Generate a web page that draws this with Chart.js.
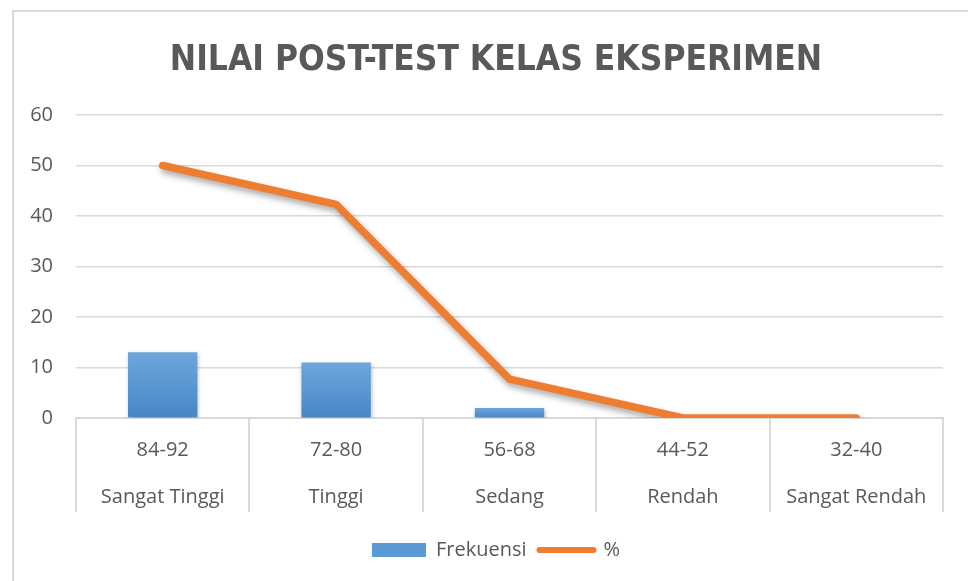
<!DOCTYPE html>
<html>
<head>
<meta charset="utf-8">
<title>Nilai Post-Test Kelas Eksperimen</title>
<script src="https://cdn.jsdelivr.net/npm/chart.js@4.4.1/dist/chart.umd.min.js"></script>
<style>
    html, body { margin: 0; padding: 0; background: #fff; }
    .wrap { position: relative; width: 968px; height: 581px; overflow: hidden; }
    .frame { position: absolute; left: 12px; top: 10px; width: 980px; height: 600px;
             border-left: 2px solid #d9d9d9; border-top: 2px solid #d9d9d9; }
    #postTestChart { position: absolute; left: 0; top: 0; }
</style>
</head>
<body>
<div class="wrap">
    <div class="frame"></div>
    <canvas id="postTestChart" width="968" height="581"></canvas>
</div>
<script>
// data
const rentang = ['84-92', '72-80', '56-68', '44-52', '32-40']
const kategori = ['Sangat Tinggi', 'Tinggi', 'Sedang', 'Rendah', 'Sangat Rendah']
const frekuensi = [13, 11, 2, 0, 0]
const persen = [50, 42.31, 7.69, 0, 0]
const yTicks = [0, 10, 20, 30, 40, 50, 60]

const labels = rentang.map((r, i) => [r, kategori[i]])

const grey = '#595959'
const gridGrey = '#d9d9d9'
const blue = '#5b9bd5'
const orange = '#ed7d31'

function barFill(context) {
    const chart = context.chart
    if (!chart.chartArea || context.type !== 'data') return blue
    const y = chart.scales.y
    const top = y.getPixelForValue(context.raw)
    const bottom = y.getPixelForValue(0)
    if (bottom - top < 1) return blue
    const g = chart.ctx.createLinearGradient(0, top, 0, bottom)
    g.addColorStop(0, '#6ea6dd')
    g.addColorStop(1, '#4686c6')
    return g
}

// soft drop shadow like the office chart
const shadowPlugin = {
    id: 'shadow',
    beforeDatasetDraw(chart, args) {
        const ctx = chart.ctx
        ctx.save()
        if (args.meta.type === 'line') {
            ctx.shadowColor = 'rgba(0,0,0,0.35)'
            ctx.shadowBlur = 6
            ctx.shadowOffsetX = 2
            ctx.shadowOffsetY = 4
        } else {
            ctx.shadowColor = 'rgba(0,0,0,0.25)'
            ctx.shadowBlur = 4
            ctx.shadowOffsetX = 1
            ctx.shadowOffsetY = 2
        }
    },
    afterDatasetDraw(chart) {
        chart.ctx.restore()
    }
}

document.addEventListener('DOMContentLoaded', function () {
    const ctx = document.querySelector('#postTestChart').getContext('2d')
    new Chart(ctx, {
        type: 'bar',
        data: {
            labels: labels,
            datasets: [{
                type: 'bar',
                label: 'Frekuensi',
                data: frekuensi,
                backgroundColor: barFill,
                borderWidth: 0,
                barPercentage: 0.4,
                categoryPercentage: 1,
                order: 2
            }, {
                type: 'line',
                label: '%',
                data: persen,
                borderColor: orange,
                backgroundColor: orange,
                borderWidth: 7.5,
                borderCapStyle: 'round',
                borderJoinStyle: 'round',
                tension: 0,
                pointRadius: 0,
                pointHoverRadius: 0,
                fill: false,
                order: 1
            }]
        },
        options: {
            responsive: false,
            animation: false,
            layout: { padding: { top: 0, left: 24, right: 0, bottom: 11 } },
            plugins: {
                tooltip: { enabled: false },
                title: {
                    display: true,
                    text: 'NILAI POST-TEST KELAS EKSPERIMEN',
                    color: grey,
                    font: { family: "'Liberation Sans Narrow', 'DejaVu Sans Condensed', 'Open Sans'", size: 35, weight: 'bold', lineHeight: 1.2 },
                    padding: { top: 40, bottom: 33 }
                },
                legend: {
                    position: 'bottom',
                    labels: {
                        color: grey,
                        font: { family: "'Open Sans'", size: 20 },
                        padding: 13,
                        usePointStyle: true,
                        pointStyleWidth: 54,
                        boxHeight: 14,
                        generateLabels(chart) {
                            const items = Chart.defaults.plugins.legend.labels.generateLabels(chart)
                            items.sort((a, b) => a.datasetIndex - b.datasetIndex)
                            items.forEach(item => {
                                if (item.datasetIndex === 0) {
                                    item.pointStyle = 'rect'
                                    item.fillStyle = blue
                                    item.lineWidth = 0
                                } else {
                                    item.pointStyle = 'line'
                                    item.strokeStyle = orange
                                    item.fillStyle = orange
                                    item.lineWidth = 6
                                    item.lineCap = 'round'
                                }
                            })
                            return items
                        }
                    }
                }
            },
            scales: {
                x: {
                    offset: true,
                    grid: {
                        offset: true,
                        drawOnChartArea: false,
                        drawTicks: true,
                        tickLength: 94,
                        color: gridGrey,
                        lineWidth: 2
                    },
                    border: { display: true, color: gridGrey, width: 2 },
                    ticks: {
                        color: grey,
                        font: { family: "'Open Sans'", size: 20, lineHeight: 47 / 20 },
                        padding: -85.5,
                        maxRotation: 0,
                        autoSkip: false
                    },
                    afterFit(scale) { scale.height = 109 }
                },
                y: {
                    min: 0,
                    max: 60,
                    afterBuildTicks(scale) {
                        scale.ticks = yTicks.map(v => ({ value: v }))
                    },
                    grid: { color: gridGrey, lineWidth: 1.5, drawTicks: false },
                    border: { display: false },
                    ticks: {
                        color: grey,
                        font: { family: "'Open Sans'", size: 20 },
                        padding: 23
                    },
                    afterFit(scale) { scale.width = 52 }
                },
                // empty spacer on the right so the plot ends where the original does
                spacer: {
                    type: 'linear',
                    position: 'right',
                    min: 0,
                    max: 60,
                    grid: { drawOnChartArea: false, drawTicks: false },
                    border: { display: false },
                    ticks: { display: false },
                    afterFit(scale) { scale.width = 25 }
                }
            }
        },
        plugins: [shadowPlugin]
    })
})
</script>
</body>
</html>
